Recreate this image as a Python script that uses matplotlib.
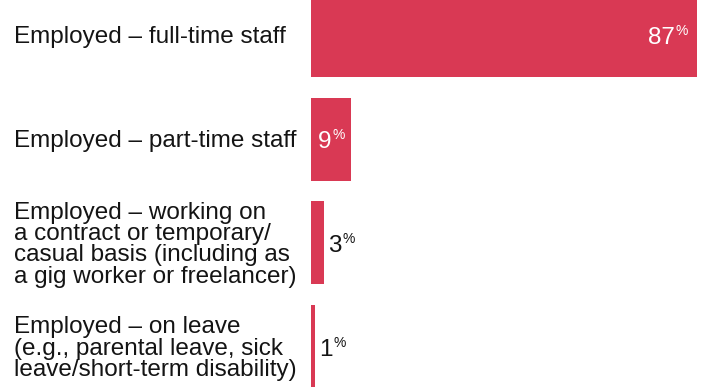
import matplotlib.pyplot as plt

plt.rcParams['font.family'] = ['Liberation Sans', 'DejaVu Sans']

categorias = [
    "Employed – full-time staff",
    "Employed – part-time staff",
    "Employed – working on\na contract or temporary/\ncasual basis (including as\na gig worker or freelancer)",
    "Employed – on leave\n(e.g., parental leave, sick\nleave/short-term disability)",
]
valores = [87, 9, 3, 1]

color_barra = "#D93954"
color_texto = "#141414"

fig = plt.figure(figsize=(7.08, 3.87), dpi=100)
ax = fig.add_axes([311 / 708, 0, 397 / 708, 1])

posiciones = list(range(len(valores)))
ax.barh(posiciones, valores, height=0.8, color=color_barra)
ax.set_xlim(0, 87 * 397 / 386)
ax.set_ylim(3.39, -0.342)
ax.axis("off")

# etiquetas de categoria a la izquierda
for pos, texto in zip(posiciones, categorias):
    ax.annotate(texto, xy=(0, pos), xycoords=("axes fraction", "data"),
                xytext=(-297, -2), textcoords="offset pixels",
                ha="left", va="center", fontsize=17.5, linespacing=0.95,
                color=color_texto)

fig.canvas.draw()
renderer = fig.canvas.get_renderer()

# valores con el signo % en superindice
for pos, v in zip(posiciones, valores):
    xe, yc = ax.transData.transform((v, pos))
    x0, _ = ax.transData.transform((0, pos))
    ancho_barra = xe - x0
    num = ax.annotate(str(v), xy=(v, pos), xytext=(0, -9),
                      textcoords="offset pixels", ha="left", va="baseline",
                      fontsize=17.5)
    pct = ax.annotate("%", xy=(v, pos), xytext=(0, 0),
                      textcoords="offset pixels", ha="left", va="baseline",
                      fontsize=10)
    w_num = num.get_window_extent(renderer).width
    w_pct = pct.get_window_extent(renderer).width
    total = w_num + 1 + w_pct
    if ancho_barra > 100:
        # etiqueta al final de la barra, por dentro
        izq = -9 - total
        col = "white"
    elif ancho_barra > total + 6:
        # centrada dentro de la barra
        izq = -ancho_barra / 2 - total / 2
        col = "white"
    else:
        izq = 4
        col = color_texto
    num.set_position((izq, -9))
    num.set_color(col)
    pct.set_position((izq + w_num + 1, 0))
    pct.set_color(col)

fig.savefig("out.png", dpi=100)
